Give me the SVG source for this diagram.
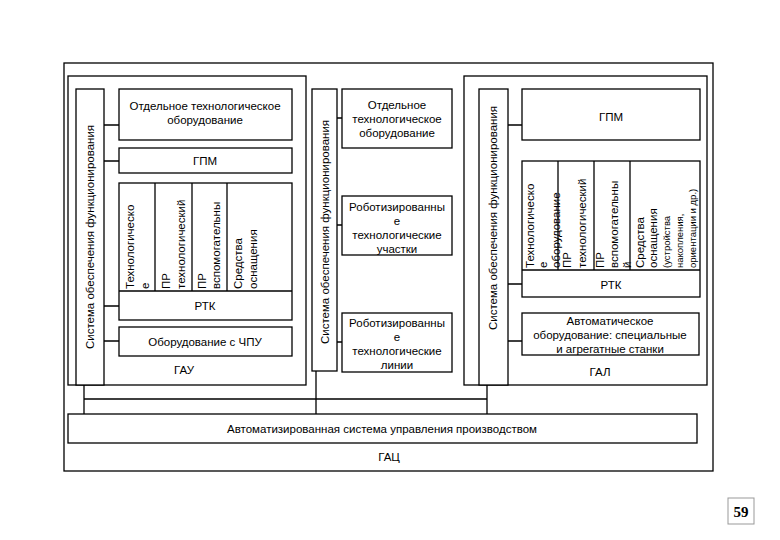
<svg xmlns="http://www.w3.org/2000/svg" width="780" height="540" viewBox="0 0 780 540">
<style>
.b{fill:#fff;stroke:#000;stroke-width:1.3}
.n{fill:none;stroke:#000;stroke-width:1.3}
.t{font-family:"Liberation Sans",Arial,sans-serif;font-size:11.5px;fill:#000}
.s{font-family:"Liberation Sans",Arial,sans-serif;font-size:9.5px;fill:#000}
.c{text-anchor:middle}
</style>
<rect width="780" height="540" fill="#fff"/>
<g id="gac">
<rect class="b" x="64" y="63" width="649" height="408"/>
<text class="t c" x="389" y="461">ГАЦ</text>
</g>
<g id="asup">
<rect class="b" x="68" y="414" width="629" height="29"/>
<text class="t c" x="382" y="433">Автоматизированная система управления производством</text>
</g>
<g id="gau">
<rect class="b" x="68" y="76" width="238" height="309"/>
<text class="t c" x="184" y="374">ГАУ</text>
</g>
<g id="gau-sof">
<rect class="b" x="76" y="89" width="28" height="296"/>
<text class="t c" transform="translate(94,237) rotate(-90)">Система обеспечения функционирования</text>
</g>
<g id="gau-oto">
<rect class="b" x="119" y="89" width="173" height="51"/>
<text class="t c" x="205" y="110">Отдельное технологическое</text>
<text class="t c" x="205" y="124">оборудование</text>
</g>
<g id="gau-gpm">
<rect class="b" x="119" y="148" width="173" height="25"/>
<text class="t c" x="205" y="165">ГПМ</text>
</g>
<g id="gau-rtk">
<rect class="b" x="119" y="183" width="173" height="137"/>
<line class="n" x1="119" y1="291" x2="292" y2="291"/>
<line class="n" x1="155" y1="183" x2="155" y2="291"/>
<line class="n" x1="192" y1="183" x2="192" y2="291"/>
<line class="n" x1="227" y1="183" x2="227" y2="291"/>
<text class="t" transform="translate(134,289) rotate(-90)">Технологическо</text>
<text class="t" transform="translate(149,289) rotate(-90)">е</text>
<text class="t" transform="translate(170,289) rotate(-90)">ПР</text>
<text class="t" transform="translate(185,289) rotate(-90)">технологический</text>
<text class="t" transform="translate(206,289) rotate(-90)">ПР</text>
<text class="t" transform="translate(220,289) rotate(-90)">вспомогательны</text>
<text class="t" transform="translate(242,289) rotate(-90)">Средства</text>
<text class="t" transform="translate(257,289) rotate(-90)">оснащения</text>
<text class="t c" x="205" y="310">РТК</text>
</g>
<g id="gau-chpu">
<rect class="b" x="119" y="327" width="173" height="29"/>
<text class="t c" x="205" y="346">Оборудование с ЧПУ</text>
</g>
<g id="mid-sof">
<rect class="b" x="312" y="89" width="25" height="282"/>
<text class="t c" transform="translate(329,232) rotate(-90)">Система обеспечения функционирования</text>
</g>
<g id="mid-oto">
<rect class="b" x="342" y="89" width="110" height="59"/>
<text class="t c" x="397" y="109">Отдельное</text>
<text class="t c" x="397" y="123">технологическое</text>
<text class="t c" x="397" y="137">оборудование</text>
</g>
<g id="mid-rtu">
<rect class="b" x="342" y="196" width="110" height="59"/>
<text class="t c" x="397" y="211">Роботизированны</text>
<text class="t c" x="397" y="225">е</text>
<text class="t c" x="397" y="239">технологические</text>
<text class="t c" x="397" y="253">участки</text>
</g>
<g id="mid-rtl">
<rect class="b" x="342" y="313" width="110" height="59"/>
<text class="t c" x="397" y="327">Роботизированны</text>
<text class="t c" x="397" y="341">е</text>
<text class="t c" x="397" y="355">технологические</text>
<text class="t c" x="397" y="369">линии</text>
</g>
<g id="gal">
<rect class="b" x="464" y="76" width="243" height="309"/>
<text class="t c" x="600" y="376">ГАЛ</text>
</g>
<g id="gal-sof">
<rect class="b" x="479" y="89" width="29" height="296"/>
<text class="t c" transform="translate(497,218) rotate(-90)">Система обеспечения функционирования</text>
</g>
<g id="gal-gpm">
<rect class="b" x="522" y="89" width="178" height="51"/>
<text class="t c" x="611" y="121">ГПМ</text>
</g>
<g id="gal-rtk">
<rect class="b" x="522" y="161" width="178" height="136"/>
<line class="n" x1="522" y1="270" x2="700" y2="270"/>
<text class="t" transform="translate(534,268) rotate(-90)">Технологическо</text>
<text class="t" transform="translate(547,268) rotate(-90)">е</text>
<text class="t" transform="translate(560,268) rotate(-90)">оборудование</text>
<text class="t" transform="translate(571,268) rotate(-90)">ПР</text>
<text class="t" transform="translate(586,268) rotate(-90)">технологический</text>
<text class="t" transform="translate(604,268) rotate(-90)">ПР</text>
<text class="t" transform="translate(618,268) rotate(-90)">вспомогательны</text>
<text class="t" transform="translate(631,268) rotate(-90)">й</text>
<text class="t" transform="translate(644,268) rotate(-90)">Средства</text>
<text class="t" transform="translate(657,268) rotate(-90)">оснащения</text>
<text class="s" transform="translate(670,268) rotate(-90)">(устройства</text>
<text class="s" transform="translate(683,268) rotate(-90)">накопления,</text>
<text class="s" transform="translate(696,268) rotate(-90)">ориентации и др.)</text>
<line class="n" x1="558" y1="161" x2="558" y2="270"/>
<line class="n" x1="594" y1="161" x2="594" y2="270"/>
<line class="n" x1="630" y1="161" x2="630" y2="270"/>
<text class="t c" x="611" y="289">РТК</text>
</g>
<g id="gal-auto">
<rect class="b" x="522" y="313" width="177" height="42"/>
<text class="t c" x="610" y="325">Автоматическое</text>
<text class="t c" x="610" y="339">оборудование: специальные</text>
<text class="t c" x="610" y="353">и агрегатные станки</text>
</g>
<g id="connectors">
<path class="n" d="M104 125H119M104 161H119M104 306H119M104 341H119"/>
<path class="n" d="M337 118H342M337 225H342M337 342H342"/>
<path class="n" d="M508 125H522M508 284H522M508 341H522"/>
<path class="n" d="M84 385V414M316 371V414M487 385V414M84 399H487"/>
</g>
<g id="page">
<rect x="728" y="498" width="26" height="26" fill="#fff" stroke="#999" stroke-width="1"/>
<text x="741" y="517" text-anchor="middle" style="font-family:'Liberation Serif','Times New Roman',serif;font-size:15px;font-weight:bold">59</text>
</g>
</svg>
